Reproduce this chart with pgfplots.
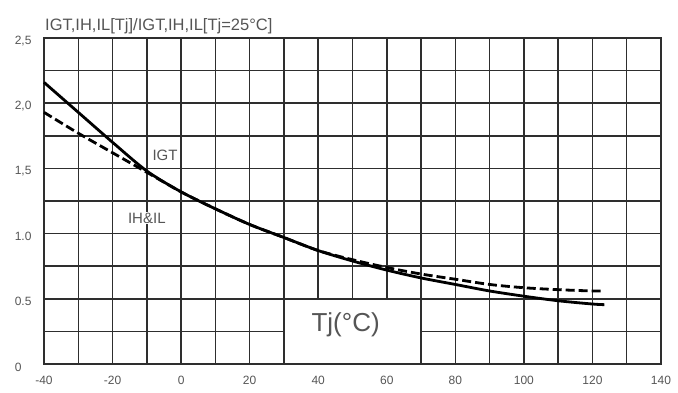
\documentclass[border=0pt]{standalone}
\usepackage{fontspec}
\setmainfont{Liberation Sans}
\usepackage{pgfplots}
\pgfplotsset{compat=1.18}
\definecolor{gridc}{HTML}{2E2E2E}
\definecolor{txt}{HTML}{555555}
\begin{document}
\begin{tikzpicture}
\path[use as bounding box] (-44pt,-28pt) rectangle (634pt,364pt);
\begin{axis}[
  scale only axis,
  width=617pt, height=326pt,
  xmin=-40, xmax=140, ymin=0, ymax=2.5,
  xtick={-40,-20,...,140},
  minor xtick={-30,-10,...,130},
  ytick={0,0.5,1,1.5,2,2.5},
  yticklabels={0,0.5,1.0,{1,5},{2,0},{2,5}},
  minor ytick={0.25,0.75,1.25,1.75,2.25},
  grid=both,
  grid style={gridc, line width=1.5pt},
  minor grid style={gridc, line width=1.5pt},
  axis line style={gridc, line width=1.5pt},
  major tick length=0pt, minor tick length=0pt,
  tick label style={font=\fontsize{12}{14}\selectfont, text=txt},
  xticklabel style={yshift=-9pt},
  yticklabel style={anchor=east, inner sep=0pt, text width=25pt, align=left, xshift=-4pt, yshift=-3pt},
  /pgf/number format/assume math mode=true,
  clip=false,
]
\fill[white] ([xshift=0.9pt,yshift=0.9pt]axis cs:30,0) rectangle ([xshift=-0.9pt,yshift=-0.9pt]axis cs:70,0.5);
\addplot[black, line width=2.8pt, smooth] coordinates {
(-40,2.16) (-30,1.93) (-20,1.70) (-10,1.48) (0,1.32) (10,1.19) (20,1.07) (30,0.97)
(40,0.87) (50,0.79) (60,0.72) (70,0.66) (80,0.61) (90,0.56) (100,0.52) (110,0.485) (120,0.46) (123.5,0.455)};
\addplot[black, line width=2.8pt, smooth, dash pattern=on 9pt off 4pt] coordinates {
(-40,1.93) (-30,1.77) (-20,1.62) (-10,1.47) (0,1.32) (10,1.19) (20,1.07) (30,0.97)
(40,0.87) (50,0.80) (60,0.74) (70,0.69) (80,0.65) (90,0.61) (100,0.585) (110,0.57) (120,0.56) (123.5,0.56)};
\node[fill=white, inner sep=1pt, text=txt, font=\fontsize{15}{17}\selectfont] at (axis cs:-4.7,1.60) {IGT};
\node[fill=white, inner sep=1pt, text=txt, font=\fontsize{15}{17}\selectfont] at (axis cs:-10,1.12) {IH\&IL};
\node[text=txt, font=\fontsize{26}{30}\selectfont] at (axis cs:48,0.30) {Tj(°C)};
\node[anchor=base west, text=txt, font=\fontsize{16.5}{19}\selectfont, inner sep=0pt] at ([yshift=8pt,xshift=1pt]axis cs:-40,2.5) {IGT,IH,IL[Tj]/IGT,IH,IL[Tj=25°C]};
\end{axis}
\end{tikzpicture}
\end{document}
